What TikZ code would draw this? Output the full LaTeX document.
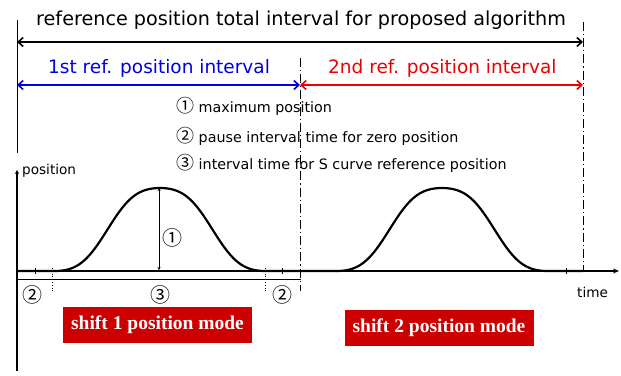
\documentclass[tikz,border=0pt]{standalone}
\usepackage{fontspec}
\setmainfont{Liberation Serif}
\newfontfamily\lblfont{DejaVu Sans}
\newfontfamily\cjk{Noto Sans CJK JP}
\usetikzlibrary{arrows.meta}
\definecolor{boxred}{RGB}{204,0,0}
\definecolor{arrblue}{RGB}{0,0,230}
\definecolor{arrred}{RGB}{235,0,0}
\newcommand{\circn}[1]{{\cjk\fontsize{18}{18}\selectfont #1}}
\begin{document}
\begin{tikzpicture}[x=1pt,y=-1pt,
  declare function={sc(\t)=(1-cos(360*\t))/2; ss(\t)=0.45*sc(\t)+0.55*(3*sc(\t)^2-2*sc(\t)^3);},
  bigtxt/.style={font=\lblfont\fontsize{19.2}{21}\selectfont, inner sep=0pt, anchor=base west},
  midtxt/.style={font=\lblfont\fontsize{18.5}{21}\selectfont, inner sep=0pt, anchor=base west},
  legtxt/.style={font=\lblfont\fontsize{14.3}{16}\selectfont, inner sep=0pt, anchor=base west},
  smalltxt/.style={font=\lblfont\fontsize{13.6}{15}\selectfont, inner sep=0pt},
  numtxt/.style={font=\cjk\fontsize{20}{22}\selectfont, inner sep=0pt},
  dimarrow/.style={line width=1.6pt, {Straight Barb[length=5pt,width=9pt]}-{Straight Barb[length=5pt,width=9pt]}},
  axisline/.style={line width=1.2pt},
  curveline/.style={line width=2.2pt, line join=round},
  dashdot/.style={line width=1pt, dash pattern=on 9pt off 3pt on 1.2pt off 3pt},
  dotline/.style={line width=0.8pt, dotted},
  thinline/.style={line width=0.9pt},
  modebox/.style={fill=boxred, text=white, font=\bfseries\fontsize{19.5}{21}\selectfont, minimum width=189pt, minimum height=36pt, inner sep=0pt}
]
\useasboundingbox (0,0) rectangle (621,375);

% coordinates
\coordinate (L0) at (17,20);
\coordinate (L1) at (17,153);
\coordinate (TL) at (17,42);
\coordinate (TR) at (583,42);
\coordinate (BL) at (17,85);
\coordinate (BM) at (300,85);
\coordinate (BR) at (583,85);
\coordinate (D1a) at (300,58);
\coordinate (D1b) at (300,291);
\coordinate (D2a) at (583,22);
\coordinate (D2b) at (583,272);
\coordinate (O) at (17,271);
\coordinate (Ytop) at (17,170);
\coordinate (Ybot) at (17,371);
\coordinate (Xend) at (619,271);
\coordinate (Pk) at (159,188);
\coordinate (Pb) at (159,270);
\coordinate (Da) at (17,279);
\coordinate (Db) at (301,279);
\coordinate (V1a) at (52,268);
\coordinate (V1b) at (52,291);
\coordinate (V2a) at (265,268);
\coordinate (V2b) at (265,291);

% top text
\node[bigtxt] (title) at (36,25) {reference position total interval for proposed algorithm};
\node[midtxt, text=arrblue] (first) at (48,73) {1st ref. position interval};
\node[midtxt, text=arrred] (second) at (328,73) {2nd ref. position interval};

% interval arrows
\draw[thinline] (L0) -- (L1);
\draw[dimarrow] (TL) -- (TR);
\draw[dimarrow, arrblue] (BL) -- (BM);
\draw[dimarrow, arrred] (BM) -- (BR);
\draw[dashdot] (D1a) -- (D1b);
\draw[dashdot] (D2a) -- (D2b);

% legend
\node[legtxt] (leg1) at (176,112) {\circn{①} maximum position};
\node[legtxt] (leg2) at (176,142) {\circn{②} pause interval time for zero position};
\node[legtxt] (leg3) at (176,169) {\circn{③} interval time for S curve reference position};

% axes
\draw[axisline, -{Stealth[length=4pt,width=4pt]}] (Ybot) -- (Ytop);
\draw[axisline, -{Stealth[length=6pt,width=5pt]}] (O) -- (Xend);
\node[smalltxt, anchor=base west] (ylab) at (22,174) {position};
\node[smalltxt, anchor=base west] (xlab) at (577,297) {time};

% ticks on axis
\draw[thinline] (35,268) -- (35,274);
\draw[thinline] (282,268) -- (282,274);
\draw[thinline] (566,268) -- (566,274);

% curves
\draw[curveline] (17,271) -- (55,271)
  -- plot[domain=0:1, samples=80] ({55+210*\x}, {271-83*ss(\x)})
  -- (337,271)
  -- plot[domain=0:1, samples=80] ({337+210*\x}, {271-83*ss(\x)})
  -- (583,271);

% peak dimension
\draw[thinline, {Stealth[length=3pt,width=3pt]}-{Stealth[length=3pt,width=3pt]}] (Pk) -- (Pb);
\node[numtxt] (n1) at (172,238) {①};

% bottom dimension line
\draw[thinline] (Da) -- (Db);
\draw[thinline] (17,276) -- (17,282);
\draw[dotline] (V1a) -- (V1b);
\draw[dotline] (V2a) -- (V2b);
\node[numtxt] (n2a) at (33,295) {②};
\node[numtxt] (n3) at (160,295) {③};
\node[numtxt] (n2b) at (282,295) {②};

% mode boxes
\node[modebox] (m1) at (157.5,325) {shift 1 position mode};
\node[modebox] (m2) at (439,327.5) {shift 2 position mode};
\end{tikzpicture}
\end{document}
